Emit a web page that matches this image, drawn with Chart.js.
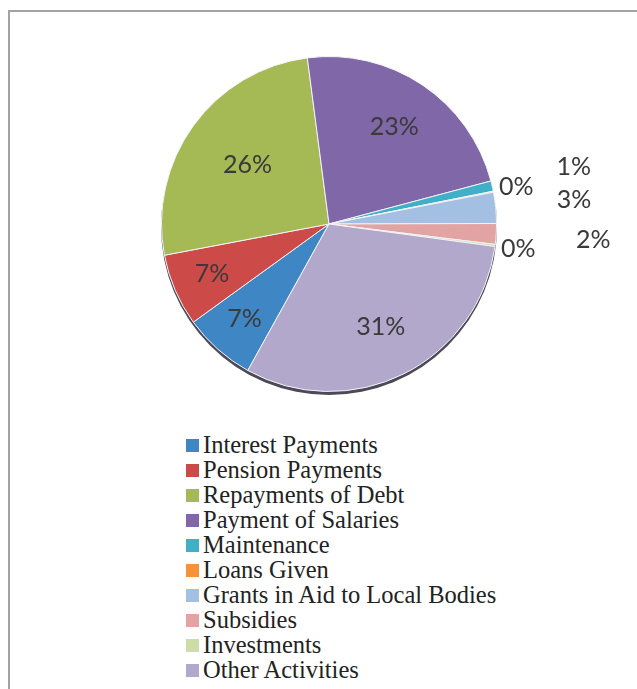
<!DOCTYPE html>
<html>
<head>
<meta charset="utf-8">
<script src="https://cdn.jsdelivr.net/npm/chart.js@4"></script>
<style>
  html, body { margin: 0; padding: 0; background: #fff; }
  body { width: 637px; height: 689px; position: relative; overflow: hidden; }
  .frame {
    position: absolute; left: 8px; top: 10px; width: 700px; height: 700px;
    border-left: 2px solid #a3a3a3; border-top: 2px solid #a3a3a3;
  }
  #pie { position: absolute; left: 0; top: 0; }
  #legend {
    position: absolute; left: 186px; top: 432px; margin: 0; padding: 0;
    list-style: none; font-family: "Liberation Serif", "Times New Roman", serif;
    font-size: 24.5px; line-height: 25px; color: #222;
  }
  #legend li { white-space: nowrap; }
  #legend span.box {
    display: inline-block; width: 13px; height: 13px; margin-right: 4px;
    vertical-align: 1px;
  }
</style>
</head>
<body>
<div class="frame"></div>
<canvas id="pie" width="637" height="420"></canvas>
<ul id="legend"></ul>
<script>
  const categories = [
    'Interest Payments',
    'Pension Payments',
    'Repayments of Debt',
    'Payment of Salaries',
    'Maintenance',
    'Loans Given',
    'Grants in Aid to Local Bodies',
    'Subsidies',
    'Investments',
    'Other Activities',
  ]
  // share of expenditure, percent
  const shares = [7, 7, 26, 23, 1, 0.1, 3, 2, 0.2, 31]
  const colors = [
    '#3f86c4', '#cc4b49', '#a5b955', '#7f67a8', '#3fb0c8',
    '#f7923a', '#a3bfe2', '#e2a3a3', '#cedca6', '#b1a8cc',
  ]
  // where each percent label sits, as a multiple of the pie radius
  const labelDist = [0.76, 0.76, 0.6, 0.7, 1.5, 1.14, 1.47, 1.58, 1.14, 0.69]

  const total = shares.reduce((a, b) => a + b, 0)

  // dark rim under the pie for the raised look
  const rimPlugin = {
    id: 'rim',
    beforeDatasetsDraw(chart) {
      const arc = chart.getDatasetMeta(0).data[0]
      if (!arc) return
      const { x, y, outerRadius } = arc.getProps(['x', 'y', 'outerRadius'], true)
      const ctx = chart.ctx
      ctx.save()
      ctx.fillStyle = '#4d4a57'
      ctx.beginPath()
      ctx.arc(x, y + 3, outerRadius + 0.5, 0, Math.PI * 2)
      ctx.fill()
      ctx.restore()
    },
  }

  // percent labels: inside for big slices, outside for thin ones
  const pctLabels = {
    id: 'pctLabels',
    afterDatasetsDraw(chart) {
      const ctx = chart.ctx
      ctx.save()
      ctx.font = '25px Lato, "Open Sans", sans-serif'
      ctx.fillStyle = '#3a3a3a'
      ctx.textAlign = 'center'
      ctx.textBaseline = 'middle'
      chart.getDatasetMeta(0).data.forEach((arc, i) => {
        const p = arc.getProps(['x', 'y', 'startAngle', 'endAngle', 'outerRadius'], true)
        const pct = Math.round(shares[i] / total * 100)
        const mid = (p.startAngle + p.endAngle) / 2
        const r = p.outerRadius * labelDist[i]
        ctx.fillText(pct + '%', p.x + Math.cos(mid) * r, p.y + Math.sin(mid) * r)
      })
      ctx.restore()
    },
  }

  const chart = new Chart(document.getElementById('pie'), {
    type: 'pie',
    data: {
      labels: categories,
      datasets: [
        {
          data: shares,
          backgroundColor: colors,
          borderColor: '#f4f4f8',
          borderWidth: 1,
        },
      ],
    },
    options: {
      responsive: false,
      animation: false,
      rotation: 209,
      layout: { padding: { top: 56, bottom: 28, left: 21, right: 0 } },
      plugins: {
        legend: { display: false },
        tooltip: { enabled: false },
      },
    },
    plugins: [rimPlugin, pctLabels],
  })

  // one-column legend under the pie
  const list = document.getElementById('legend')
  chart.options.plugins.legend.labels.generateLabels(chart).forEach(item => {
    const li = document.createElement('li')
    const box = document.createElement('span')
    box.className = 'box'
    box.style.background = item.fillStyle
    li.appendChild(box)
    li.appendChild(document.createTextNode(item.text))
    list.appendChild(li)
  })
</script>
</body>
</html>
